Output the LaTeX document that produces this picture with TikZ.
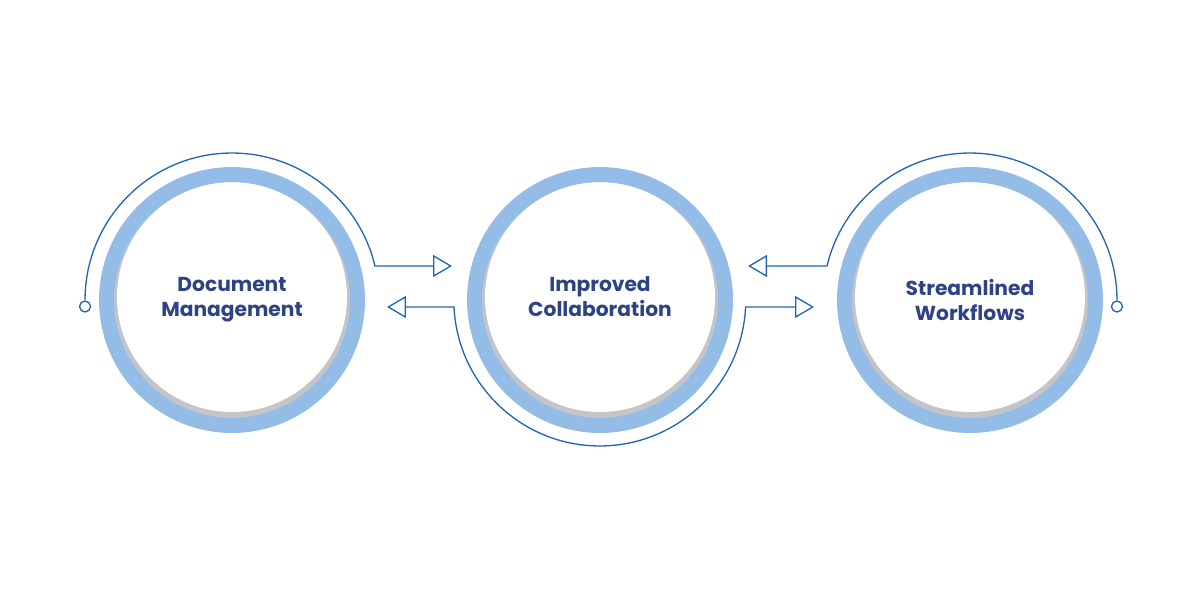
\documentclass[tikz,border=0pt]{standalone}
\usepackage{fontspec}
\setmainfont{Poppins}
\usetikzlibrary{arrows.meta,calc}
\definecolor{ringblue}{HTML}{93BDE6}
\definecolor{lineblue}{HTML}{2166B3}
\definecolor{textnavy}{HTML}{2E4286}
\definecolor{shadegray}{HTML}{C4C4C9}
\begin{document}
\begin{tikzpicture}[x=0.02cm, y=0.02cm, >={Triangle[open, length=0.38cm, width=0.44cm]},
		stage/.style={circle, draw=ringblue, line width=0.3cm, fill=shadegray, minimum size=5.02cm, inner sep=0pt,
			text=textnavy, align=center, font=\fontsize{11.5}{14.2}\selectfont\bfseries,
			path picture={\fill[white] ($(path picture bounding box.center)+(0,3)$) circle (2.3cm);}},
		link/.style={draw=lineblue, line width=0.75pt}]
		\useasboundingbox (0,0) rectangle (1200,600);
		\node[stage] (dm) at (232,300) {Document\\Management};
		\node[stage] (ic) at (600,300) {Improved\\Collaboration\strut};
		\node[stage] (sw) at (970,300) {Streamlined\\Workflows};
		\draw[link, ->] (dm.center) ++(180:2.94cm) coordinate (dmend) arc[start angle=180, end angle=13.4, radius=2.94cm] -- ($(ic.west)+(-15,34)$);
		\draw[link, fill=white] ($(dmend)+(0,-6.5)$) circle (0.11cm);
		\draw[link, ->] (sw.center) ++(0:2.94cm) coordinate (swend) arc[start angle=0, end angle=166.6, radius=2.94cm] -- ($(sw.west)+(-89,34)$);
		\draw[link, fill=white] ($(swend)+(0,-6.5)$) circle (0.11cm);
		\draw[link, <->] ($(dm.east)+(22,-7)$) -- ($(ic.center)+(-146,-7)$) arc[start angle=182.75, end angle=357.25, radius=2.92cm] -- ($(sw.west)+(-23,-7)$);
		\end{tikzpicture}
\end{document}
